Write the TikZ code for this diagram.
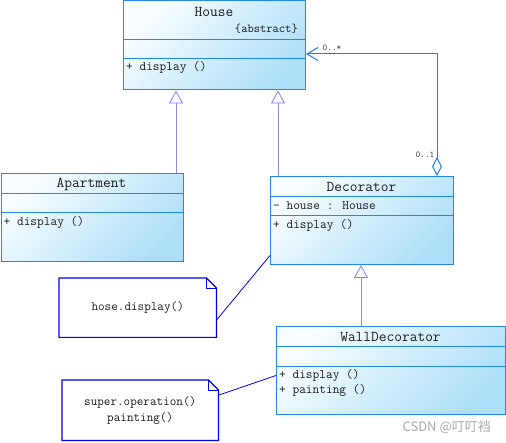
\documentclass[tikz,border=0pt]{standalone}
\usepackage{fontspec}
\newfontfamily\cjk{Noto Sans CJK SC}
\usetikzlibrary{arrows.meta,calc}
\definecolor{bord}{HTML}{2288EE}
\definecolor{shA}{HTML}{F8FDFF}
\definecolor{shB}{HTML}{AEDFF8}
\definecolor{genline}{HTML}{8C8CD0}
\definecolor{gentri}{HTML}{7F7FFF}
\definecolor{aggc}{HTML}{1E7FF0}
\definecolor{notec}{HTML}{0000F0}
\definecolor{txt}{HTML}{1A1A1A}
\definecolor{multc}{HTML}{404040}
\definecolor{wm}{HTML}{A8A8A8}
\begin{document}
\begin{tikzpicture}[x=1pt,y=-1pt,
  cls/.style={draw=bord, line width=1pt, top color=shA, bottom color=shB, shading angle=45, inner sep=0, anchor=north west},
  sep/.style={draw=bord, line width=1pt},
  ctitle/.style={font=\ttfamily\fontsize{15}{15}\selectfont, text=txt, inner sep=0},
  member/.style={font=\ttfamily\fontsize{13}{13}\selectfont, text=txt, inner sep=0, anchor=west, text height=9pt, text depth=2.5pt},
  abst/.style={font=\ttfamily\fontsize{12.2}{12.2}\selectfont, text=txt, inner sep=0, anchor=east},
  gen/.style={draw=genline, line width=0.8pt, -{Triangle[open, length=13pt, width=14pt, color=gentri]}},
  agg/.style={draw=aggc, line width=1pt, {Diamond[open, length=19pt, width=10pt]}-{Straight Barb[length=11pt, width=13pt]}},
  mult/.style={font=\ttfamily\fontsize{9}{9}\selectfont, text=multc, inner sep=0},
  notebox/.style={inner sep=0, anchor=north west, font=\ttfamily\fontsize{12.8}{16}\selectfont, text=txt, align=center},
  noteout/.style={draw=notec, line width=1.2pt, line join=miter},
  noteln/.style={draw=notec, line width=0.8pt}
]
\useasboundingbox (0,0) rectangle (506,443);

% House
\node[cls, minimum width=182pt, minimum height=89pt] (house) at (123,0.5) {};
\draw[sep] ($(house.north west)+(0,39)$) -- ($(house.north east)+(0,39)$);
\draw[sep] ($(house.north west)+(0,58)$) -- ($(house.north east)+(0,58)$);
\node[ctitle] (houseT) at (214,11.5) {House};
\node[abst] (houseA) at (298,29) {\{abstract\}};
\node[member] (houseM) at (126,67) {+ display ()};

% Apartment
\node[cls, minimum width=182.5pt, minimum height=88pt] (apt) at (0.5,173) {};
\draw[sep] ($(apt.north west)+(0,21)$) -- ($(apt.north east)+(0,21)$);
\draw[sep] ($(apt.north west)+(0,40)$) -- ($(apt.north east)+(0,40)$);
\node[ctitle] (aptT) at (91.5,184) {Apartment};
\node[member] (aptM) at (3.5,222) {+ display ()};

% Decorator
\node[cls, minimum width=183pt, minimum height=88pt] (dec) at (270,176) {};
\draw[sep] ($(dec.north west)+(0,21)$) -- ($(dec.north east)+(0,21)$);
\draw[sep] ($(dec.north west)+(0,40)$) -- ($(dec.north east)+(0,40)$);
\node[ctitle] (decT) at (361.5,187) {Decorator};
\node[member] (decA) at (273,206) {- house : House};
\node[member] (decM) at (273,225) {+ display ()};

% WallDecorator
\node[cls, minimum width=229pt, minimum height=88pt] (wall) at (276,326) {};
\draw[sep] ($(wall.north west)+(0,21)$) -- ($(wall.north east)+(0,21)$);
\draw[sep] ($(wall.north west)+(0,41)$) -- ($(wall.north east)+(0,41)$);
\node[ctitle] (wallT) at (390.5,337) {WallDecorator};
\node[member] (wallM1) at (279,375) {+ display ()};
\node[member] (wallM2) at (279,390) {+ painting ()};

% generalizations
\coordinate (ga) at (176,0);
\coordinate (gd) at (278,0);
\coordinate (gw) at (361,0);
\draw[gen] (apt.north -| ga) -- (house.south -| ga);
\draw[gen] (dec.north -| gd) -- (house.south -| gd);
\draw[gen] (wall.north -| gw) -- (dec.south -| gw);

% aggregation
\coordinate (aggtop) at (437,54);
\draw[agg] (dec.north -| aggtop) -- (aggtop) -- (aggtop -| house.east);
\node[mult] (m1) at (332,48) {0..*};
\node[mult] (m2) at (425,155) {0..1};

% note 1
\node[notebox, minimum width=157pt, minimum height=59pt] (note1) at (59,278) {hose.display()};
\draw[noteout] (note1.north west) -- ($(note1.north east)+(-10,0)$) -- ($(note1.north east)+(0,10)$) -- (note1.south east) -- (note1.south west) -- cycle;
\draw[noteln] ($(note1.north east)+(-10,0)$) -- ++(0,10) -- ++(10,0);
\draw[noteln] ([yshift=-12.5pt]note1.east) -- ([yshift=-35pt]dec.west);

% note 2
\node[notebox, minimum width=156pt, minimum height=60pt] (note2) at (62,380) {super.operation()\\painting()};
\draw[noteout] (note2.north west) -- ($(note2.north east)+(-10,0)$) -- ($(note2.north east)+(0,10)$) -- (note2.south east) -- (note2.south west) -- cycle;
\draw[noteln] ($(note2.north east)+(-10,0)$) -- ++(0,10) -- ++(10,0);
\draw[noteln] ([yshift=15pt]note2.east) -- ([yshift=-5pt]wall.west);

% watermark
\node[font=\cjk\fontsize{13}{13}\selectfont, text=wm, anchor=east, inner sep=0] (wmk) at (491,427) {CSDN @叮叮裆};
\end{tikzpicture}
\end{document}
